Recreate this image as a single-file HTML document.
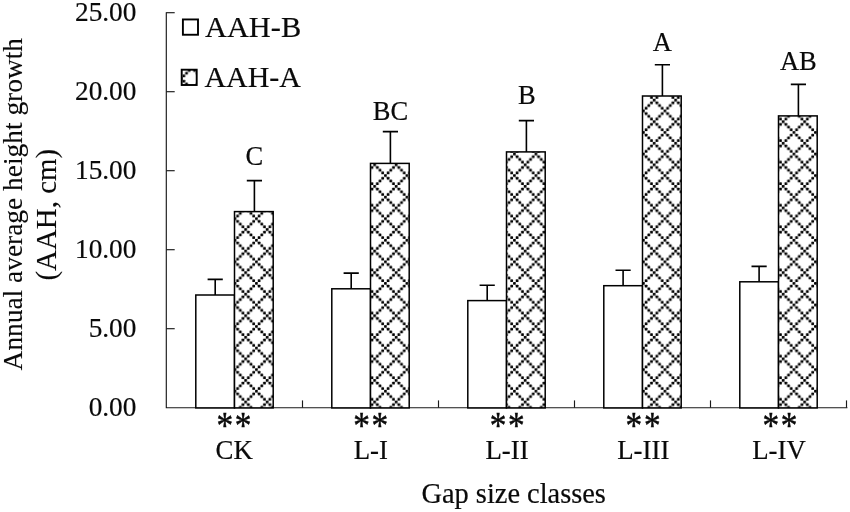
<!DOCTYPE html>
<html lang="en">
<head>
<meta charset="utf-8">
<title>Annual average height growth by gap size class</title>
<style>
html,body{margin:0;padding:0;background:#fff;}
body{width:850px;height:512px;overflow:hidden;}
svg{display:block;}
text{font-family:"Liberation Serif","Times New Roman",serif;fill:#0a0a0a;stroke:#0a0a0a;stroke-width:0.2px;}
.t{font-size:28px;}
.ttl{font-size:28px;}
.star{font-size:36.6px;letter-spacing:1.8px;stroke-width:0.5px;}
.lg{font-size:29.6px;}
.yt{stroke-width:0.1px;}
.dl{font-size:26.5px;}
.ct{font-size:26.8px;}
.ax{stroke:#1a1a1a;stroke-width:1.15;fill:none;}
.bar{stroke:#000;stroke-width:1.5;}
.err{stroke:#000;stroke-width:1.6;fill:none;}
</style>
</head>
<body>
<svg width="850" height="512" viewBox="0 0 850 512">
<defs>
<pattern id="dia" patternUnits="userSpaceOnUse" x="18.556" y="1.762" width="21.500" height="21.560"><rect width="21.500" height="21.560" fill="#fff"/><rect x="-0.006" y="-0.003" width="2.7" height="2.7" rx="0.6" fill="#000"/><rect x="2.681" y="2.692" width="2.7" height="2.7" rx="0.6" fill="#000"/><rect x="2.681" y="18.862" width="2.7" height="2.7" rx="0.6" fill="#000"/><rect x="5.369" y="5.387" width="2.7" height="2.7" rx="0.6" fill="#000"/><rect x="5.369" y="16.167" width="2.7" height="2.7" rx="0.6" fill="#000"/><rect x="8.056" y="8.082" width="2.7" height="2.7" rx="0.6" fill="#000"/><rect x="8.056" y="13.473" width="2.7" height="2.7" rx="0.6" fill="#000"/><rect x="10.744" y="10.777" width="2.7" height="2.7" rx="0.6" fill="#000"/><rect x="13.431" y="8.082" width="2.7" height="2.7" rx="0.6" fill="#000"/><rect x="13.431" y="13.473" width="2.7" height="2.7" rx="0.6" fill="#000"/><rect x="16.119" y="5.387" width="2.7" height="2.7" rx="0.6" fill="#000"/><rect x="16.119" y="16.167" width="2.7" height="2.7" rx="0.6" fill="#000"/><rect x="18.806" y="2.692" width="2.7" height="2.7" rx="0.6" fill="#000"/><rect x="18.806" y="18.862" width="2.7" height="2.7" rx="0.6" fill="#000"/></pattern>
</defs>
<rect width="850" height="512" fill="#fff"/>
<path class="ax" d="M166.3 12.2V407.7H847.4"/>
<path class="ax" d="M166.3 328.7h8.4"/><path class="ax" d="M166.3 249.7h8.4"/><path class="ax" d="M166.3 170.7h8.4"/><path class="ax" d="M166.3 91.7h8.4"/><path class="ax" d="M166.3 12.7h8.4"/><path class="ax" d="M302.5 407.7v-7.3"/><path class="ax" d="M438.5 407.7v-7.3"/><path class="ax" d="M574.5 407.7v-7.3"/><path class="ax" d="M710.5 407.7v-7.3"/><path class="ax" d="M846.5 407.7v-7.3"/>
<text class="t" transform="translate(136.4 416.1) scale(0.975 1)" text-anchor="end">0.00</text><text class="t" transform="translate(136.4 337.1) scale(0.975 1)" text-anchor="end">5.00</text><text class="t" transform="translate(136.4 258.1) scale(0.975 1)" text-anchor="end">10.00</text><text class="t" transform="translate(136.4 179.1) scale(0.975 1)" text-anchor="end">15.00</text><text class="t" transform="translate(136.4 100.1) scale(0.975 1)" text-anchor="end">20.00</text><text class="t" transform="translate(136.4 21.1) scale(0.975 1)" text-anchor="end">25.00</text>
<rect class="bar" x="195.8" y="295.0" width="38.7" height="112.9" fill="#fff"/><rect class="bar" x="234.5" y="211.6" width="38.7" height="196.3" fill="url(#dia)"/><path class="err" d="M215.2 295.0V279.4M207.6 279.4h15.2"/><path class="err" d="M254.4 211.6V180.6M246.8 180.6h15.2"/><text class="dl" x="254.4" y="164.7" text-anchor="middle">C</text><text class="star" transform="translate(216.4 438.2) scale(0.91 1.03)">**</text><text class="ct" x="234.2" y="458.6" text-anchor="middle">CK</text>
<rect class="bar" x="331.8" y="288.8" width="38.7" height="119.1" fill="#fff"/><rect class="bar" x="370.5" y="163.4" width="38.7" height="244.5" fill="url(#dia)"/><path class="err" d="M351.2 288.8V273.1M343.6 273.1h15.2"/><path class="err" d="M390.4 163.4V131.6M382.8 131.6h15.2"/><text class="dl" x="390.4" y="120.4" text-anchor="middle">BC</text><text class="star" transform="translate(353.2 438.2) scale(0.91 1.03)">**</text><text class="ct" x="370.8" y="458.6" text-anchor="middle">L-I</text>
<rect class="bar" x="467.8" y="300.6" width="38.7" height="107.3" fill="#fff"/><rect class="bar" x="506.5" y="151.9" width="38.7" height="256.0" fill="url(#dia)"/><path class="err" d="M487.2 300.6V285.2M479.6 285.2h15.2"/><path class="err" d="M526.4 151.9V120.6M518.8 120.6h15.2"/><text class="dl" x="526.8" y="104.2" text-anchor="middle">B</text><text class="star" transform="translate(489.7 438.2) scale(0.91 1.03)">**</text><text class="ct" x="507.0" y="458.6" text-anchor="middle">L-II</text>
<rect class="bar" x="603.8" y="285.7" width="38.7" height="122.2" fill="#fff"/><rect class="bar" x="642.5" y="96.0" width="38.7" height="311.9" fill="url(#dia)"/><path class="err" d="M623.1 285.7V270.3M615.5 270.3h15.2"/><path class="err" d="M662.4 96.0V64.7M654.8 64.7h15.2"/><text class="dl" x="662.4" y="51.1" text-anchor="middle">A</text><text class="star" transform="translate(625.6 438.2) scale(0.91 1.03)">**</text><text class="ct" x="643.3" y="458.6" text-anchor="middle">L-III</text>
<rect class="bar" x="739.8" y="281.8" width="38.7" height="126.1" fill="#fff"/><rect class="bar" x="778.5" y="115.9" width="38.7" height="292.0" fill="url(#dia)"/><path class="err" d="M759.1 281.8V266.4M751.5 266.4h15.2"/><path class="err" d="M798.4 115.9V84.4M790.8 84.4h15.2"/><text class="dl" x="798.4" y="69.8" text-anchor="middle">AB</text><text class="star" transform="translate(762.4 438.2) scale(0.91 1.03)">**</text><text class="ct" x="779.0" y="458.6" text-anchor="middle">L-IV</text>
<rect x="182.9" y="19.45" width="15.1" height="15.3" fill="#fff" stroke="#000" stroke-width="1.9"/><text class="lg" x="205" y="36.8" textLength="96.2" lengthAdjust="spacingAndGlyphs">AAH-B</text>
<rect x="181.7" y="69.7" width="15" height="15.3" fill="url(#dia)" stroke="#000" stroke-width="1.9"/><text class="lg" x="204.4" y="86.6" textLength="96.6" lengthAdjust="spacingAndGlyphs">AAH-A</text>
<text class="ttl" x="513.7" y="503" text-anchor="middle" style="font-size:28.4px">Gap size classes</text>
<text class="yt" transform="translate(21.7 370.4) rotate(-90)" style="font-size:27.4px">Annual average height growth</text>
<text class="yt" transform="translate(55.9 280.5) rotate(-90)" style="font-size:28.9px">(AAH, cm)</text>
</svg>
</body>
</html>
